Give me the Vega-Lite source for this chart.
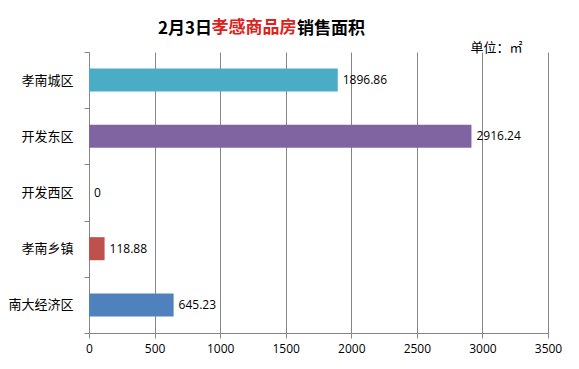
{
  "$schema": "https://vega.github.io/schema/vega-lite/v6.json",
  "width": 459,
  "height": 281,
  "autosize": {"type": "none"},
  "padding": {"left": 89, "top": 52, "right": 31, "bottom": 36},
  "background": "white",
  "title": {
    "text": "2月3日　　　　　销售面积",
    "anchor": "start",
    "frame": "group",
    "dx": 69,
    "offset": -37,
    "baseline": "bottom",
    "font": "Noto Sans CJK SC",
    "fontSize": 17,
    "fontWeight": "bold",
    "color": "#000000"
  },
  "data": {
    "values": [
      {"region": "孝南城区", "area": 1896.86},
      {"region": "开发东区", "area": 2916.24},
      {"region": "开发西区", "area": 0},
      {"region": "孝南乡镇", "area": 118.88},
      {"region": "南大经济区", "area": 645.23}
    ]
  },
  "config": {
    "view": {"stroke": null},
    "axis": {"domainColor": "#868686", "tickColor": "#868686", "gridColor": "#868686", "labelColor": "#000000"}
  },
  "resolve": {"axis": {"x": "independent"}},
  "layer": [
    {
      "mark": {"type": "bar", "height": {"band": 0.41}},
      "encoding": {
        "y": {
          "field": "region",
          "type": "nominal",
          "sort": ["孝南城区", "开发东区", "开发西区", "孝南乡镇", "南大经济区"],
          "scale": {"paddingInner": 0, "paddingOuter": 0},
          "axis": {
            "title": "孝感商品房",
            "titleAngle": 0,
            "titleX": 122,
            "titleY": -16,
            "titleAlign": "left",
            "titleBaseline": "bottom",
            "titleFont": "Noto Sans CJK SC",
            "titleFontSize": 17,
            "titleFontWeight": "bold",
            "titleColor": "#E0201B",
            "tickBand": "extent",
            "tickSize": 5,
            "labelFont": "Noto Sans CJK SC",
            "labelFontSize": 13,
            "labelPadding": 11,
            "grid": false
          }
        },
        "x": {
          "field": "area",
          "type": "quantitative",
          "scale": {"domain": [0, 3500], "nice": false},
          "axis": {
            "title": null,
            "values": [0, 500, 1000, 1500, 2000, 2500, 3000, 3500],
            "format": "d",
            "grid": true,
            "tickSize": 5,
            "labelFont": "Open Sans",
            "labelFontSize": 12,
            "labelPadding": 5,
            "labelFlush": false
          }
        },
        "color": {
          "field": "region",
          "type": "nominal",
          "scale": {
            "domain": ["孝南城区", "开发东区", "开发西区", "孝南乡镇", "南大经济区"],
            "range": ["#4BACC6", "#8064A2", "#9BBB59", "#C0504D", "#4F81BD"]
          },
          "legend": null
        }
      }
    },
    {
      "mark": {"type": "text", "align": "left", "baseline": "middle", "dx": 5, "font": "Open Sans", "fontSize": 12, "color": "#000000"},
      "encoding": {
        "y": {"field": "region", "type": "nominal", "sort": ["孝南城区", "开发东区", "开发西区", "孝南乡镇", "南大经济区"]},
        "x": {
          "field": "area",
          "type": "quantitative",
          "axis": {
            "orient": "top",
            "title": "单位：㎡",
            "domain": false,
            "ticks": false,
            "labels": false,
            "grid": false,
            "titleX": 433,
            "titleY": 2,
            "titleAlign": "right",
            "titleBaseline": "bottom",
            "titleFont": "Noto Sans CJK SC",
            "titleFontSize": 13,
            "titleFontWeight": "normal",
            "titleColor": "#000000"
          }
        },
        "text": {"field": "area", "type": "quantitative", "format": "~f"}
      }
    }
  ]
}
